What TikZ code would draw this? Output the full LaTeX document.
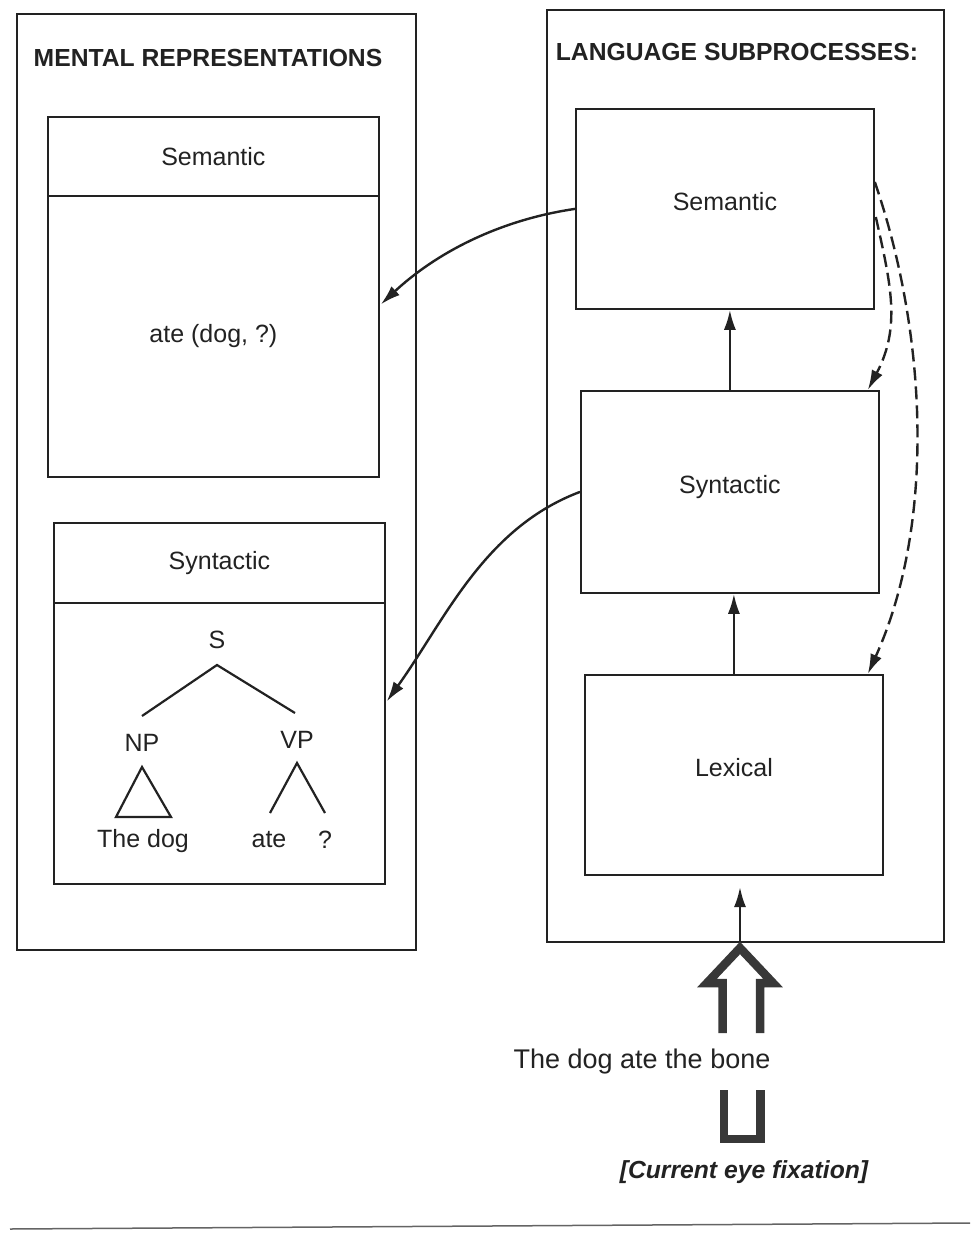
\documentclass[tikz,border=0pt]{standalone}
\usepackage{fontspec}
\setmainfont{Liberation Sans}
\usetikzlibrary{arrows.meta,calc}
\definecolor{ink}{HTML}{222222}
\begin{document}
\begin{tikzpicture}[x=1pt,y=-1pt,
  box/.style={draw=ink,line width=1.8pt,anchor=north west,inner sep=0pt,text=ink,font=\fontsize{25}{30}\selectfont},
  rbox/.style={box,text depth=14pt},
  lbl/.style={text=ink,font=\fontsize{25}{30}\selectfont,inner sep=0pt},
  head/.style={text=ink,font=\bfseries\fontsize{24.7}{30}\selectfont,inner sep=0pt},
  arr/.style={draw=ink,line width=2.4pt,-{Latex[length=20pt,width=12pt]}},
  darr/.style={arr,dash pattern=on 13pt off 6pt},
  tree/.style={draw=ink,line width=2.2pt}]
\useasboundingbox (0,0) rectangle (970,1241);
\fill[white] (0,0) rectangle (970,1241);
% left panel
\node[box,minimum width=399pt,minimum height=936pt] (lout) at (16,13) {};
\node[head] (lhead) at (208,58) {MENTAL REPRESENTATIONS};
\node[box,minimum width=331pt,minimum height=79pt] (lsemT) at (47,116) {Semantic};
\node[box,minimum width=331pt,minimum height=281pt] (lsemB) at (47,195) {ate (dog, ?)};
\node[box,minimum width=331pt,minimum height=80pt] (lsynT) at (53,522) {Syntactic};
\node[box,minimum width=331pt,minimum height=281pt] (lsynB) at (53,602) {};
% tree
\node[lbl] (S) at (217,640) {S};
\node[lbl] (NP) at (142,743) {NP};
\node[lbl] (VP) at (297,740) {VP};
\node[lbl] (thedog) at (143,841) {The dog};
\node[lbl] (ate) at (269,840) {ate};
\node[lbl] (q) at (325,840) {?};
\coordinate (sA) at (217,665);
\coordinate (npE) at (142,716);
\coordinate (vpE) at (295,713);
\draw[tree] (npE) -- (sA) -- (vpE);
\draw[tree,line join=miter] (142,767) -- (116,817) -- (171,817) -- cycle;
\coordinate (vA) at (297,763);
\coordinate (vL) at (270,813);
\coordinate (vR) at (325,813);
\draw[tree] (vL) -- (vA) -- (vR);
% right panel
\node[box,minimum width=397pt,minimum height=932pt] (rout) at (546,9) {};
\node[head] (rhead) at (737,52) {LANGUAGE SUBPROCESSES:};
\node[rbox,minimum width=298pt,minimum height=200pt] (rsem) at (575,108) {Semantic};
\node[rbox,minimum width=298pt,minimum height=202pt] (rsyn) at (580,390) {Syntactic};
\node[rbox,minimum width=298pt,minimum height=200pt] (rlex) at (584,674) {Lexical};
% vertical arrows
\draw[arr] (rsyn.north) -- (rsyn.north |- rsem.south);
\draw[arr] (rlex.north) -- (rlex.north |- rsyn.south);
\coordinate (inS) at (740,941);
\coordinate (inE) at (740,887);
\draw[arr] (inS) -- (inE);
% curved arrows to mental representations
\draw[arr] (rsem.west) .. controls (499,220) and (436,253) .. ($(lsemB.east)+(1,-32)$);
\draw[arr] (rsyn.west) .. controls (484,528) and (445,620) .. ($(lsynB.east)+(1,-42)$);
% dashed feedback arrows
\draw[darr] ($(rsem.north east)+(1,109)$) .. controls (891,285) and (901,327) .. ([xshift=-12pt]rsyn.north east);
\draw[darr] ($(rsem.north east)+(0,74)$) .. controls (927,334) and (936,523) .. ([xshift=-16pt]rlex.north east);
% input
\draw[draw=ink!90,line width=8.5pt,line join=miter] (722.5,1033) -- (722.5,983) -- (707,983) -- (740,948) -- (773,983) -- (760,983) -- (760,1033);
\node[lbl,font=\fontsize{27}{32}\selectfont] (sent) at (642,1062) {The dog ate the bone};
\draw[draw=ink!90,line width=8.5pt,line join=miter] (724,1090) -- (724,1139) -- (760.5,1139) -- (760.5,1090);
\node[lbl,font=\bfseries\itshape\fontsize{24.7}{30}\selectfont] (fix) at (744,1172) {[Current eye fixation]};
% page rule
\draw[ink!70,line width=1.5pt] (10,1229) -- (970,1223);
\end{tikzpicture}
\end{document}
